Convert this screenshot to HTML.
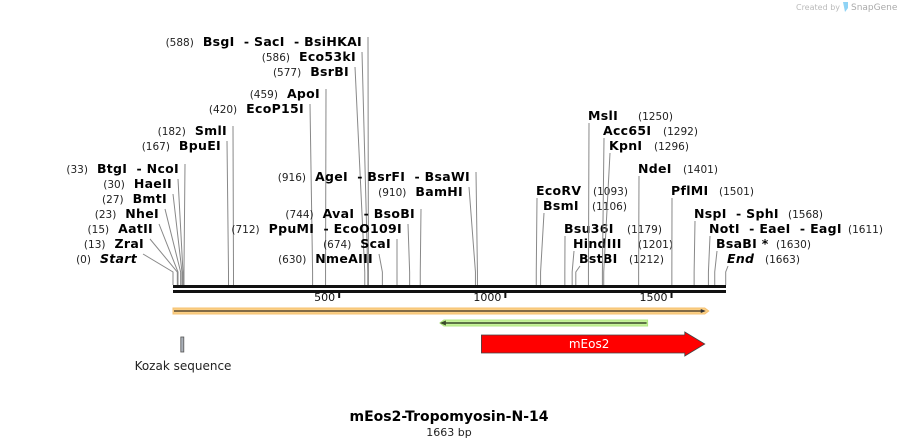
<!DOCTYPE html>
<html><head><meta charset="utf-8"><style>
html,body{margin:0;padding:0;background:#fff;}
svg{display:block;font-family:"DejaVu Sans","Liberation Sans",sans-serif;}
svg text{white-space:pre;}
.n{font-weight:bold;font-size:12.5px;fill:#000;letter-spacing:0.3px;}
.p{font-size:10.5px;fill:#222;}
</style></head><body>
<svg id="map" width="900" height="447" viewBox="0 0 900 447">
<text x="840" y="10" font-size="8" fill="#bbb" text-anchor="end">Created by</text>
<path d="M843 2 h5 v6 l-3 4 z" fill="#8fd3f5"/>
<text x="851" y="10" font-size="9" fill="#aaa">SnapGene</text>
<g id="cuts"></g>
<rect x="173" y="285" width="553" height="3" fill="#111"/>
<rect x="173" y="290" width="553" height="3" fill="#111"/>
<g id="ticks"></g>
<g id="feats"></g>
<text x="183" y="370" font-size="12" fill="#222" text-anchor="middle">Kozak sequence</text>
<text x="449" y="421" font-size="14" font-weight="bold" text-anchor="middle">mEos2-Tropomyosin-N-14</text>
<text x="449" y="436" font-size="11" fill="#222" text-anchor="middle">1663 bp</text>
</svg>
<script>
const total = 1663;
const tickValues = [500, 1000, 1500];
const leftNames = ["BsgI  - SacI  - BsiHKAI","Eco53kI","BsrBI","ApoI","EcoP15I","SmlI","BpuEI","BtgI  - NcoI","HaeII","BmtI","NheI","AatII","ZraI","Start","AgeI  - BsrFI  - BsaWI","BamHI","AvaI  - BsoBI","PpuMI  - EcoO109I","ScaI","NmeAIII"];
const leftPos = [588,586,577,459,420,182,167,33,30,27,23,15,13,0,916,910,744,712,674,630];
const leftY = [46,61,76,98,113,135,150,173,188,203,218,233,248,263,181,196,218,233,248,263];
const leftEnd = [362,356,349,320,304,227,221,179,172,167,159,153,144,137,470,463,415,402,391,373];
const rightNames = ["EcoRV","BsmI","Bsu36I","HindIII","BstBI","MslI","Acc65I","KpnI","NdeI","PflMI","NspI  - SphI","NotI  - EaeI  - EagI","BsaBI *","End"];
const rightPos = [1093,1106,1179,1201,1212,1250,1292,1296,1401,1501,1568,1611,1630,1663];
const rightY = [195,210,233,248,263,120,135,150,173,195,218,233,248,263];
const rightStart = [536,543,564,573,579,588,603,609,638,671,694,709,716,727];
const rightNumX = [593,592,627,638,629,638,663,654,683,719,788,848,776,765];

const NS = "http://www.w3.org/2000/svg";
const x0 = 173, x1 = 725.7;
function xs(bp){ return x0 + bp/total*(x1-x0); }
function mk(tag, attrs, parent){ const e=document.createElementNS(NS,tag); for(const k in attrs) e.setAttribute(k,attrs[k]); parent.appendChild(e); return e; }

const cuts = document.getElementById('cuts');
function cutLine(lx, ly, bp){
  const bx = xs(bp);
  const l = mk('polyline',{points:`${lx},${ly} ${bx},272 ${bx},285`,fill:'none',stroke:'#888','stroke-width':1},cuts);
  
  
}
leftNames.forEach((nm,i)=>{
  const g = mk('g',{},cuts);
  
  
  const t = mk('text',{x:leftEnd[i],y:leftY[i],'text-anchor':'end'},g);
  const p = mk('tspan',{class:'p'},t); p.textContent='('+leftPos[i]+')';
  const n = mk('tspan',{class:'n',dx:9,'font-style':nm==='Start'?'italic':'normal'},t); n.textContent=nm;
  cutLine(leftEnd[i]+6, leftY[i]-9, leftPos[i]);
});
rightNames.forEach((nm,i)=>{
  const g = mk('g',{},cuts);
  
  
  const t = mk('text',{x:rightStart[i],y:rightY[i],class:'n','font-style':nm==='End'?'italic':'normal'},g);
  t.textContent=nm;
  const p = mk('text',{x:rightNumX[i],y:rightY[i],class:'p'},g);
  p.textContent='('+rightPos[i]+')';
  cutLine(rightStart[i]+1, rightY[i]+3, rightPos[i]);
});

const ticks = document.getElementById('ticks');
tickValues.forEach(v=>{
  const x = xs(v);
  const r = mk('rect',{x:x-1,y:292,width:2,height:6,fill:'#111'},ticks);
  
  
  const t = mk('text',{x:x-4,y:301,'font-size':11,'text-anchor':'end',fill:'#111'},ticks);
  
  
  t.textContent=v;
});

const feats = document.getElementById('feats');
const oS = xs(0), oE = xs(1600);
let e = mk('path',{d:`M${oS} 308 H${oE} L${oE+4} 311 L${oE} 314 H${oS} Z`,fill:'#fbcf85',stroke:'#f5c070'},feats);


mk('path',{d:`M${oS+1} 311 H${oE-2}`,stroke:'#5a4a30','stroke-width':1.5},feats);
mk('path',{d:`M${oE-4} 309 L${oE+1} 311 L${oE-4} 313 Z`,fill:'#333'},feats);
const gS = xs(803), gE = xs(1428);
e = mk('path',{d:`M${gS} 323 L${gS+4} 320 H${gE} V326 H${gS+4} Z`,fill:'#c6f29a',stroke:'#b0e880'},feats);


mk('path',{d:`M${gS+3} 323 H${gE-1}`,stroke:'#3a4a2a','stroke-width':1.5},feats);
mk('path',{d:`M${gS} 323 L${gS+6} 320.5 L${gS+6} 325.5 Z`,fill:'#3a4a2a'},feats);
const mS = xs(928), mE = xs(1600);
e = mk('path',{d:`M${mS} 335 H${mE-20} V332 L${mE} 344 L${mE-20} 356 V353 H${mS} Z`,fill:'#ff0000',stroke:'#444','stroke-width':0.8},feats);


e = mk('text',{x:(mS+mE-20)/2+6,y:348,'font-size':12,fill:'#fff','text-anchor':'middle'},feats);


e.textContent='mEos2';
e = mk('rect',{x:xs(28)-1.5,y:337,width:3,height:15,fill:'#aab0b8',stroke:'#555','stroke-width':0.8},feats);


</script>
</body></html>
